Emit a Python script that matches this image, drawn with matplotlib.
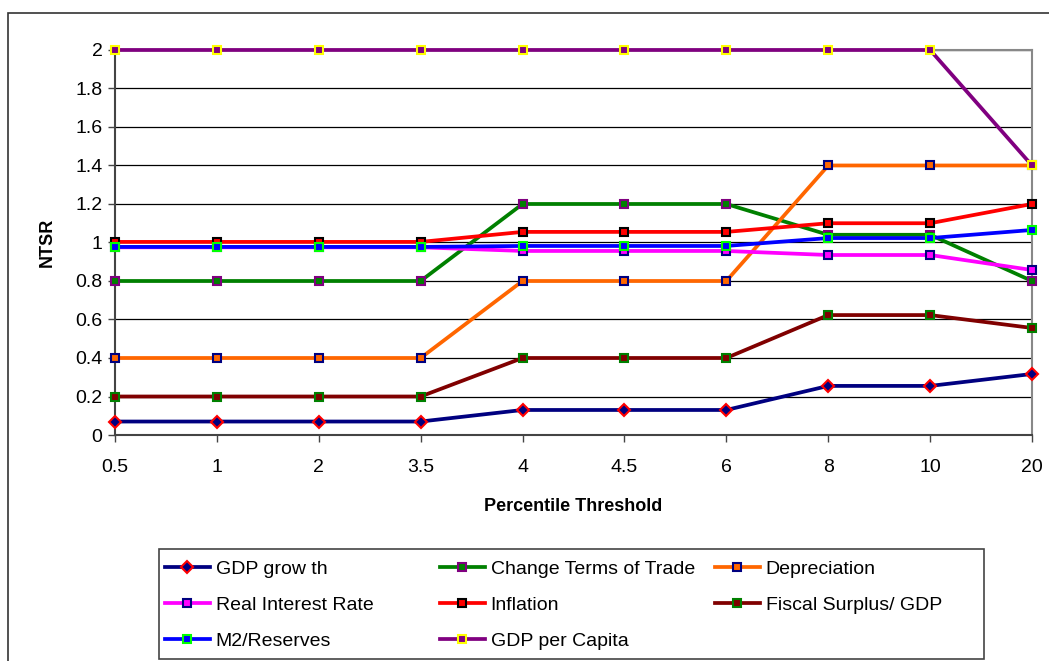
import matplotlib.pyplot as plt
from matplotlib.patches import Rectangle

plt.rcParams['font.family'] = ['Liberation Sans', 'DejaVu Sans']

thresholds = ["0.5", "1", "2", "3.5", "4", "4.5", "6", "8", "10", "20"]

gdp_growth = [0.07, 0.07, 0.07, 0.07, 0.13, 0.13, 0.13, 0.255, 0.255, 0.317]
terms_of_trade = [0.8, 0.8, 0.8, 0.8, 1.2, 1.2, 1.2, 1.04, 1.04, 0.8]
depreciation = [0.4, 0.4, 0.4, 0.4, 0.8, 0.8, 0.8, 1.4, 1.4, 1.4]
real_interest = [0.975, 0.975, 0.975, 0.975, 0.956, 0.956, 0.956, 0.935, 0.935, 0.857]
inflation = [1.003, 1.003, 1.003, 1.003, 1.055, 1.055, 1.055, 1.10, 1.10, 1.2]
fiscal_surplus = [0.2, 0.2, 0.2, 0.2, 0.4, 0.4, 0.4, 0.623, 0.623, 0.556]
m2_reserves = [0.977, 0.977, 0.977, 0.977, 0.982, 0.982, 0.982, 1.023, 1.023, 1.065]
gdp_per_capita = [2, 2, 2, 2, 2, 2, 2, 2, 2, 1.4]

# (label, values, line colour, marker, marker edge colour)
series = [
    ("GDP grow th", gdp_growth, "#000080", "D", "#FF0000"),
    ("Change Terms of Trade", terms_of_trade, "#008000", "s", "#800080"),
    ("Depreciation", depreciation, "#FF6600", "s", "#000080"),
    ("Real Interest Rate", real_interest, "#FF00FF", "s", "#000080"),
    ("Inflation", inflation, "#FF0000", "s", "#000000"),
    ("Fiscal Surplus/ GDP", fiscal_surplus, "#800000", "s", "#008000"),
    ("M2/Reserves", m2_reserves, "#0000FF", "s", "#00FF00"),
    ("GDP per Capita", gdp_per_capita, "#800080", "s", "#FFFF00"),
]

W, H = 1049, 661
fig = plt.figure(figsize=(W / 100, H / 100), dpi=100)
ax = fig.add_axes([0.1096, 0.3419, 0.8742, 0.5825])

x = range(len(thresholds))
for label, vals, col, mk, mec in series:
    ax.plot(x, vals, color=col, lw=2.7, marker=mk, markersize=5.5 if mk == "s" else 6,
            markerfacecolor=col, markeredgecolor=mec, markeredgewidth=1.5,
            label=label, clip_on=False, zorder=3)

ax.set_xlim(0, len(thresholds) - 1)
ax.set_ylim(0, 2)
ax.set_xticks(list(x))
ax.set_xticklabels(thresholds, fontsize=14)
ax.set_yticks([i * 0.2 for i in range(11)])
ax.set_yticklabels(["0", "0.2", "0.4", "0.6", "0.8", "1", "1.2", "1.4", "1.6", "1.8", "2"], fontsize=14)
ax.tick_params(axis='both', direction='out', length=5, width=1, color='#444444', pad=4)
ax.tick_params(axis='x', pad=12)
ax.yaxis.grid(True, color='black', lw=0.9)
ax.set_axisbelow(True)
for side in ['top', 'right']:
    ax.spines[side].set_color('#888888')
    ax.spines[side].set_linewidth(1.5)
for side in ['left', 'bottom']:
    ax.spines[side].set_color('#444444')
    ax.spines[side].set_linewidth(1.5)

ax.set_ylabel("NTSR", fontsize=13, fontweight='bold', labelpad=14)
ax.set_xlabel("Percentile Threshold", fontsize=13, fontweight='bold', labelpad=16)

# legend: one column per legend so columns sit at the same spacing as the original
handles, labels = ax.get_legend_handles_labels()
col_x = [165, 440, 715]
for c in range(3):
    idx = list(range(c, len(handles), 3))
    leg = fig.legend([handles[i] for i in idx], [labels[i] for i in idx],
                     loc='upper left', bbox_to_anchor=(col_x[c] / W, 1 - 560 / H),
                     fontsize=14, frameon=False, borderaxespad=0, borderpad=0,
                     handlelength=2.3, handletextpad=0.3, labelspacing=0.96)
fig.patches.append(Rectangle((159 / W, 1 - 659 / H), (984 - 159) / W, 110 / H,
                             transform=fig.transFigure, fill=False,
                             edgecolor='#444444', lw=1.2))

# outer chart frame
fig.patches.append(Rectangle((8 / W, -0.05), 1.1, 1 - 13 / H + 0.05,
                             transform=fig.transFigure, fill=False,
                             edgecolor='#333333', lw=1.2))

fig.savefig("out.png", dpi=100)
